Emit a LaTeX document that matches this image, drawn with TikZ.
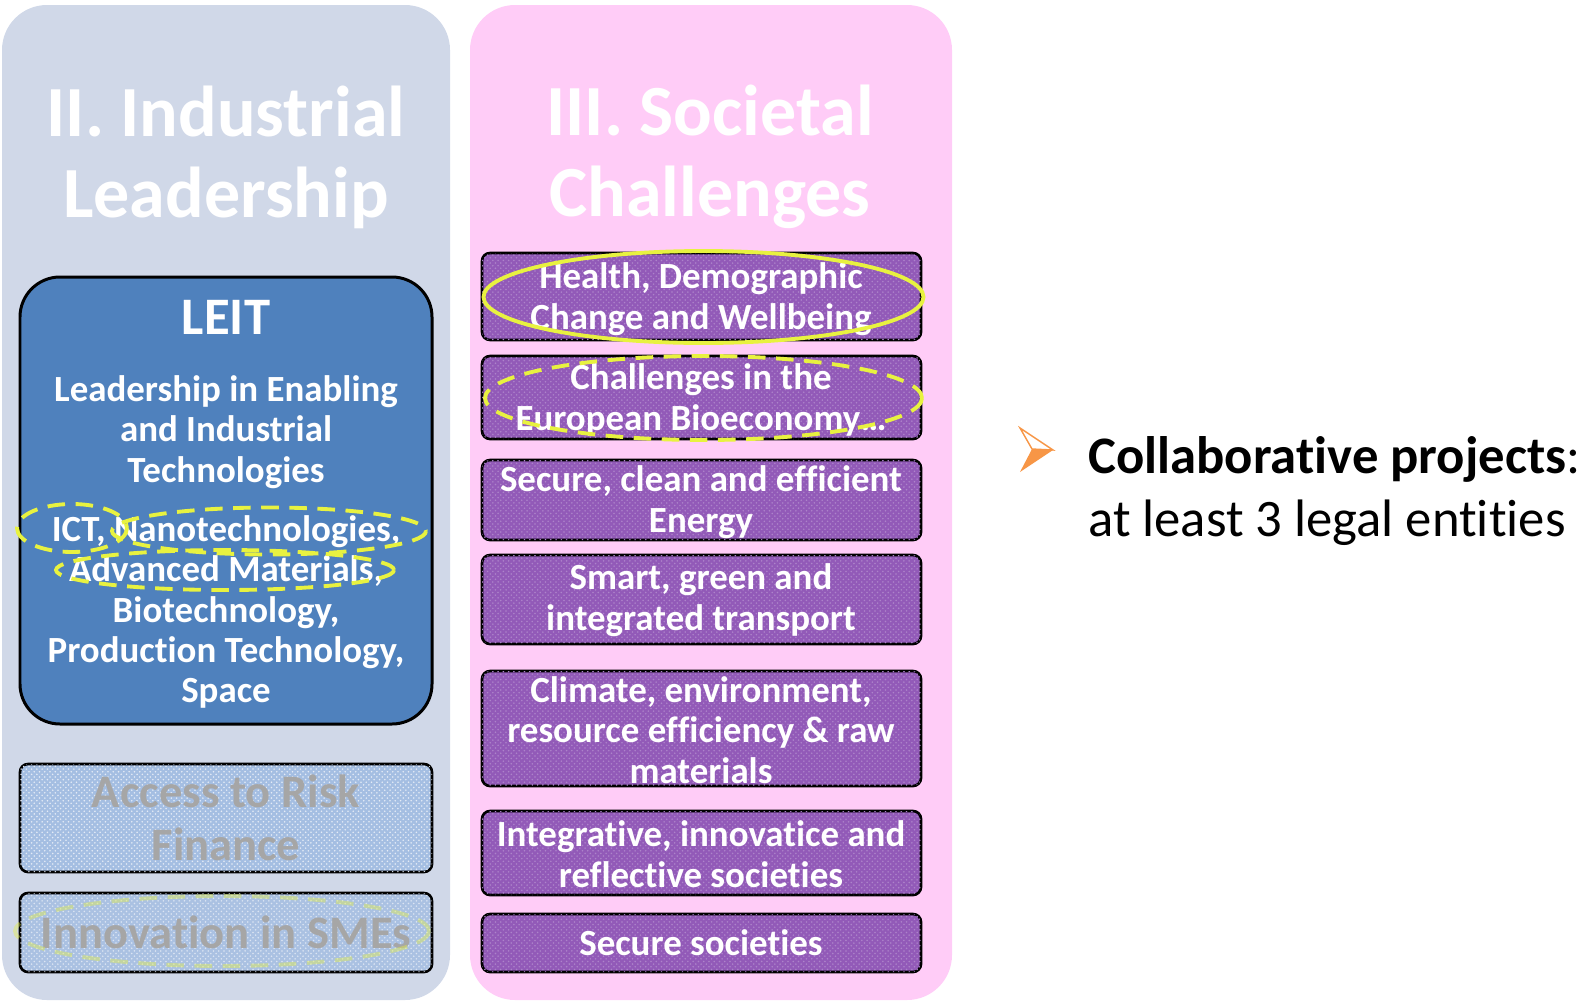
\documentclass[tikz,border=0pt]{standalone}
\usepackage{fontspec}
\setmainfont{Carlito}[Ligatures=NoCommon]
\usetikzlibrary{patterns}

\definecolor{indpanel}{RGB}{208,216,232}
\definecolor{socpanel}{RGB}{255,204,247}
\definecolor{leitblue}{RGB}{79,129,189}
\definecolor{riskblue}{RGB}{164,190,226}
\definecolor{socpurple}{RGB}{146,90,184}
\definecolor{hiyellow}{RGB}{232,242,64}
\definecolor{bulletorange}{RGB}{247,150,70}

\tikzset{
  panel/.style={rounded corners=0.9cm},
  leitbox/.style={draw=black, line width=1.7pt, fill=leitblue, rounded corners=0.8cm},
  riskbox/.style={draw=black, line width=1.5pt, fill=riskblue, rounded corners=0.16cm,
    postaction={pattern=crosshatch dots, pattern color=white!70!riskblue}},
  socbox/.style={draw=black, line width=1.5pt, fill=socpurple, rounded corners=0.16cm,
    postaction={pattern=crosshatch dots, pattern color=socpurple!75!white}},
  titletext/.style={text=white, font=\bfseries\fontsize{41}{46}\selectfont, align=center, inner sep=0pt},
  boxtext/.style={text=white, font=\bfseries\fontsize{21}{23}\selectfont, align=center, inner sep=0pt},
  fadedtext/.style={text=black!35, font=\bfseries\fontsize{26.5}{30}\selectfont, align=center, inner sep=0pt},
  hilite/.style={draw=hiyellow, line width=2.2pt},
  hidash/.style={hilite, dash pattern=on 10pt off 6pt}
}

\begin{document}
\begin{tikzpicture}[x=0.02cm, y=-0.02cm]
  \useasboundingbox (0,0) rectangle (1594,1001);

  % the two pillars
  \fill[indpanel, panel] (2,5) rectangle (450,1000);
  \fill[socpanel, panel] (470,5) rectangle (952,1000);

  \node[titletext] (indtitle) at (226,157) {II. Industrial\\Leadership};
  \node[titletext] (soctitle) at (710,157) {III. Societal\\Challenges};

  % LEIT
  \draw[leitbox] (20,277) rectangle (432,724);
  \node[boxtext, font=\bfseries\fontsize{30}{34}\selectfont] (leit) at (226,317) {LEIT};
  \node[boxtext] (leitsub) at (226,432) {Leadership in Enabling\\and Industrial\\Technologies};
  \node[boxtext] (leitlist) at (226,612) {ICT, Nanotechnologies,\\Advanced Materials,\\Biotechnology,\\Production Technology,\\Space};

  \draw[hidash] (72,528) ellipse (55 and 24);
  \draw[hidash] (269,531) ellipse (157 and 23.5);
  \draw[hidash] (225,570) ellipse (169 and 20);

  % faded boxes
  \draw[riskbox] (20,764) rectangle (432,872);
  \node[fadedtext] (risk) at (226,818) {Access to Risk\\Finance};
  \draw[riskbox, fill opacity=0.85] (20,893) rectangle (432,972);
  \node[fadedtext] (smes) at (226,932) {Innovation in SMEs};
  \draw[hidash, draw opacity=0.4] (222,931) ellipse (207 and 35);

  % societal challenges
  \draw[socbox] (482,253) rectangle (921,340);
  \node[boxtext] (health) at (701,299) {Health, Demographic\\Change and Wellbeing};
  \draw[socbox] (482,356) rectangle (921,439);
  \node[boxtext] (bioeco) at (701,400) {Challenges in the\\European Bioeconomy…};
  \draw[socbox] (482,460) rectangle (921,540);
  \node[boxtext] (energy) at (701,502) {Secure, clean and efficient\\Energy};
  \draw[socbox] (482,555) rectangle (921,644);
  \node[boxtext] (transport) at (701,600) {Smart, green and\\integrated transport};
  \draw[socbox] (482,671) rectangle (921,786);
  \node[boxtext] (climate) at (701,730) {Climate, environment,\\resource efficiency \& raw\\materials};
  \draw[socbox] (482,811) rectangle (921,895);
  \node[boxtext] (inclusive) at (701,854) {Integrative, innovatice and\\reflective societies};
  \draw[socbox] (482,914) rectangle (921,972);
  \node[boxtext] (secure) at (701,943) {Secure societies};

  \draw[hilite] (703.5,297) ellipse (220 and 46);
  \draw[hidash] (703.5,398) ellipse (218.5 and 42);

  % bullet
  \filldraw[draw=bulletorange, fill=white, line width=0.8pt] (1020,428) -- (1053,450) -- (1032,449) -- cycle;
  \fill[bulletorange] (1032,449) -- (1053,450) -- (1020,472) -- cycle;
  \node[anchor=west, align=left, inner sep=0pt, font=\fontsize{30}{36}\selectfont] (collab) at (1088,491)
    {\textbf{Collaborative projects}:\\at least 3 legal entities};
\end{tikzpicture}
\end{document}
